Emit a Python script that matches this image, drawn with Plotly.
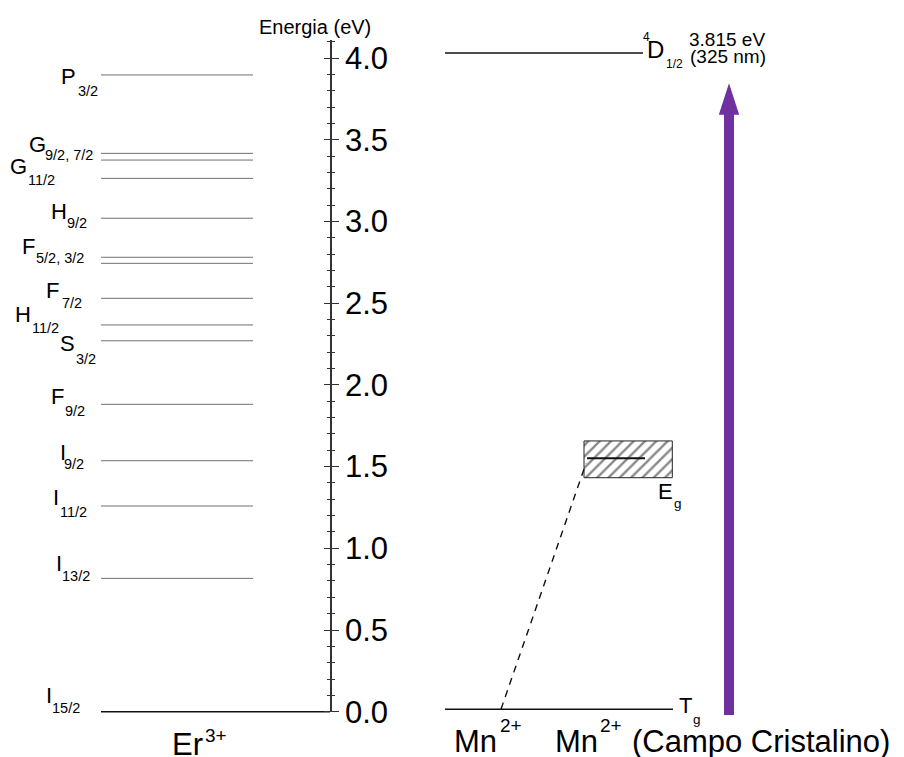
import plotly.graph_objects as go

# ---------------- data (energies in eV) ----------------
er_levels_eV = [0.0, 0.816, 1.259, 1.536, 1.881, 2.270, 2.367, 2.530, 2.744, 2.781,
                3.020, 3.264, 3.376, 3.417, 3.897]
er_label_main = ["I", "I", "I", "I", "F", "S", "H", "F", "F", "H", "G", "G", "P"]
er_label_sub = ["15/2", "13/2", "11/2", "9/2", "9/2", "3/2", "11/2", "7/2", "5/2, 3/2",
                "9/2", "11/2", "9/2, 7/2", "3/2"]
er_label_eV = [0.0, 0.816, 1.259, 1.536, 1.881, 2.270, 2.367, 2.530, 2.781, 3.020,
               3.264, 3.417, 3.897]

mn_ground_eV = 0.015
mn_d_level_eV = 4.031
eg_level_eV = 1.551
eg_band_eV = [1.432, 1.657]
dashed_top_eV = 1.52
arrow_base_eV = -0.02
arrow_tip_eV = 3.846
excitation_text = ["3.815 eV", "(325 nm)"]

axis_tick_step = 0.5
axis_minor_step = 0.1

# ---------------- layout constants (pixels) ----------------
W, H = 904, 757
Y0_PX = 711.7          # pixel of 0 eV
PX_PER_EV = 163.4
AXIS_X = 330
AXIS_TOP_PX = 40
FONT = "Arial, Liberation Sans, sans-serif"
PURPLE = "#7030A0"
GREY = "#707070"

y_lo = -(H - Y0_PX) / PX_PER_EV
y_hi = Y0_PX / PX_PER_EV

fig = go.Figure()

# Er3+ excited levels
xs, ys = [], []
for e in er_levels_eV[1:]:
    xs += [101, 253, None]
    ys += [e, e, None]
fig.add_trace(go.Scatter(x=xs, y=ys, mode="lines", line=dict(color=GREY, width=1),
                         hoverinfo="skip", showlegend=False))
# Er3+ ground level
fig.add_trace(go.Scatter(x=[101, AXIS_X], y=[er_levels_eV[0]] * 2, mode="lines",
                         line=dict(color="#111", width=1.5), hoverinfo="skip", showlegend=False))
# Mn2+ ground level
fig.add_trace(go.Scatter(x=[445, 673], y=[mn_ground_eV] * 2, mode="lines",
                         line=dict(color="#111", width=1.3), hoverinfo="skip", showlegend=False))
# 4D1/2 level
fig.add_trace(go.Scatter(x=[445, 643], y=[mn_d_level_eV] * 2, mode="lines",
                         line=dict(color="#111", width=1.5), hoverinfo="skip", showlegend=False))
# Eg hatched band
fig.add_trace(go.Bar(x=[(584 + 672.3) / 2], y=[eg_band_eV[1] - eg_band_eV[0]],
                     base=[eg_band_eV[0]], width=[672.3 - 584],
                     marker=dict(color="white", line=dict(color="#222", width=1),
                                 pattern=dict(shape="/", fgcolor="#111", bgcolor="white",
                                              size=8, solidity=0.3)),
                     hoverinfo="skip", showlegend=False))
# Eg level line
fig.add_trace(go.Scatter(x=[587, 645], y=[eg_level_eV] * 2, mode="lines",
                         line=dict(color="#111", width=2), hoverinfo="skip", showlegend=False))
# dashed connection
fig.add_trace(go.Scatter(x=[501, 586], y=[mn_ground_eV, dashed_top_eV], mode="lines",
                         line=dict(color="#111", width=1.4, dash="7px,6px"),
                         hoverinfo="skip", showlegend=False))
# excitation arrow: shaft + head
fig.add_trace(go.Scatter(x=[729, 729], y=[arrow_base_eV, arrow_tip_eV - 0.15], mode="lines",
                         line=dict(color=PURPLE, width=10), hoverinfo="skip", showlegend=False))
fig.add_trace(go.Scatter(x=[729], y=[arrow_tip_eV], mode="markers",
                         marker=dict(symbol="arrow", size=33, color=PURPLE, line=dict(width=0)),
                         hoverinfo="skip", showlegend=False))

# empty traces so that the energy-axis subplots are created
fig.add_trace(go.Scatter(x=[], y=[], xaxis="x2", yaxis="y2", hoverinfo="skip", showlegend=False))
fig.add_trace(go.Scatter(x=[], y=[], xaxis="x3", yaxis="y3", hoverinfo="skip", showlegend=False))

ann = []


def txt(x, y, text, size, dy=0.0, yref="y", xanchor="left", bearing=1.5):
    ann.append(dict(x=x - (bearing if xanchor == "left" else 0), y=y, xref="x", yref=yref,
                    text=text, showarrow=False, xanchor=xanchor, yanchor="middle",
                    yshift=-dy, borderpad=0, font=dict(size=size, color="black", family=FONT)))


def py(p):  # paper y from pixel
    return 1 - p / H


# Er3+ label placement: letter_left, letter_dy, sub_left, sub_dy (pixels from level)
er_label_pos = [
    (46.7, -16, 51.7, -3.4),
    (56, -15, 61.7, -2.3),
    (53.3, -8.5, 60, 5.7),
    (60, -8.7, 64, 3.6),
    (51.7, -7.6, 65, 6.7),
    (60, 2.3, 76, 18.3),
    (15, -10, 31.7, 3.3),
    (46.7, -7.8, 61.7, 4.4),
    (22.7, -10.8, 36, 0.7),
    (51.7, -6.3, 67, 4.7),
    (10, -12.3, 28, 1.7),
    (29, -9, 45, 1.7),
    (61.7, 1.5, 77.3, 16),
]
for m, s, e, (lx, ldy, sx, sdy) in zip(er_label_main, er_label_sub, er_label_eV, er_label_pos):
    txt(lx, e, m, 22, ldy)
    txt(sx, e, s, 14.5, sdy, bearing=0.8)

# Eg / Tg labels
txt(658.3, eg_band_eV[0], "E", 22, 491.2 - (Y0_PX - eg_band_eV[0] * PX_PER_EV))
txt(673.3, eg_band_eV[0], "g", 13.5, 503.9 - (Y0_PX - eg_band_eV[0] * PX_PER_EV), bearing=0.6)
txt(678.3, mn_ground_eV, "T", 22, 705.3 - (Y0_PX - mn_ground_eV * PX_PER_EV), bearing=0.4)
txt(692.7, mn_ground_eV, "g", 13.5, 719.2 - (Y0_PX - mn_ground_eV * PX_PER_EV), bearing=0.6)

# 4D1/2 label
d_px = Y0_PX - mn_d_level_eV * PX_PER_EV
txt(642.7, mn_d_level_eV, "4", 12, 37 - d_px, bearing=0.5)
txt(648, mn_d_level_eV, "D", 24, 50 - d_px, bearing=1.8)
txt(666, mn_d_level_eV, "1/2", 12, 64.5 - d_px, bearing=0.8)
txt(727, py(39.7), excitation_text[0], 19, yref="paper", xanchor="center")
txt(728, py(56.3), excitation_text[1], 19, yref="paper", xanchor="center")

# bottom labels
txt(173, py(744.4), "Er", 31, yref="paper", bearing=2.4)
txt(205, py(735), "3+", 19, yref="paper", bearing=1)
txt(455, py(741.1), "Mn", 31, yref="paper", bearing=2.4)
txt(500, py(725.5), "2+", 19, yref="paper", bearing=1)
txt(556.7, py(741.1), "Mn", 31, yref="paper", bearing=2.4)
txt(600, py(725.5), "2+", 19, yref="paper", bearing=1)
txt(633, py(741.1), "(Campo Cristalino)", 31, yref="paper", bearing=2.4)

# axis title
txt(314.5, py(27.5), "Energia (eV)", 20, yref="paper", xanchor="center")

dom = [(H - Y0_PX) / H, (H - AXIS_TOP_PX) / H]
rng = [0, (Y0_PX - AXIS_TOP_PX) / PX_PER_EV]
axcol = "#333"
minor_out = dict(tickmode="linear", tick0=0, dtick=axis_minor_step, ticks="outside",
                 ticklen=3.5, tickwidth=1, tickcolor=axcol)
common = dict(range=rng, domain=dom, linecolor=axcol, linewidth=1.5,
              ticks="outside", ticklen=7, tickwidth=1.2, tickcolor=axcol,
              tickmode="linear", tick0=0, dtick=axis_tick_step, showgrid=False,
              zeroline=False, minor=minor_out, automargin=False, fixedrange=True)

fig.update_layout(
    width=W, height=H, margin=dict(l=0, r=0, t=0, b=0, pad=0, autoexpand=False),
    paper_bgcolor="white", plot_bgcolor="rgba(0,0,0,0)",
    showlegend=False, annotations=ann,
    xaxis=dict(range=[0, W], visible=False, domain=[0, 1], anchor="y", fixedrange=True,
               automargin=False),
    yaxis=dict(range=[y_lo, y_hi], visible=False, domain=[0, 1], anchor="x", fixedrange=True,
               automargin=False),
    xaxis2=dict(range=[0, 1], visible=False, domain=[(AXIS_X + 1.5) / W, 1], anchor="y2",
                automargin=False),
    yaxis2=dict(anchor="x2", side="left", showticklabels=False, showline=False, **common),
    xaxis3=dict(range=[0, 1], visible=False, domain=[0, AXIS_X / W], anchor="y3",
                automargin=False),
    yaxis3=dict(anchor="x3", side="right", showticklabels=True, showline=True,
                tickformat=".1f",
                tickfont=dict(size=31, color="black", family=FONT), **common),
)

fig.write_html("out.html")
